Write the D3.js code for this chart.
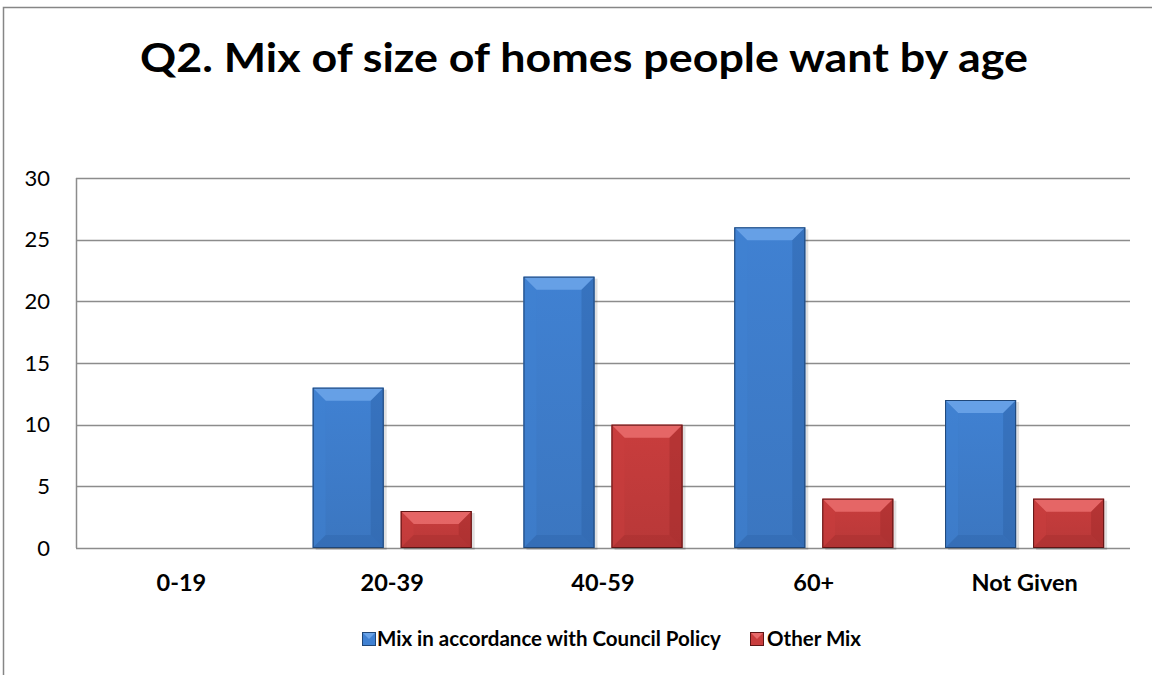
<!DOCTYPE html>
<html><head><meta charset="utf-8">
<script src="https://cdn.jsdelivr.net/npm/d3@7"></script>
<style>body{margin:0;background:#fff}svg{display:block}text{font-family:Lato,"Open Sans",sans-serif}</style>
</head><body>
<script>
const categories = ["0-19","20-39","40-59","60+","Not Given"];
const seriesNames = ["Mix in accordance with Council Policy","Other Mix"];
const councilPolicy = [0,13,22,26,12];
const otherMix = [0,3,10,4,4];
const yTicks = [0,5,10,15,20,25,30];
const title = "Q2. Mix of size of homes people want by age";

const W=1152,H=675;
const svg=d3.select("body").append("svg").attr("width",W).attr("height",H);
const defs=svg.append("defs");
const colors=[{base:"#4081d2",light:"#6aa3e8",dark:"#2c62a6",edge:"#1f4677"},{base:"#c93d3d",light:"#e86a6a",dark:"#a02b2b",edge:"#5e1515"}];
colors.forEach((c,i)=>{
  const g=defs.append("linearGradient").attr("id","g"+i).attr("x1",0).attr("y1",0).attr("x2",0).attr("y2",1);
  g.append("stop").attr("offset",0).attr("stop-color",c.base);
  g.append("stop").attr("offset",1).attr("stop-color",d3.color(c.base).darker(0.25));
});

svg.append("rect").attr("x",3.5).attr("y",7.5).attr("width",W+10).attr("height",H+10).attr("fill","none").attr("stroke","#868686").attr("stroke-width",1.5);

svg.append("text").attr("x",584).attr("y",72).attr("text-anchor","middle").attr("font-size",40).attr("font-weight","bold").attr("fill","#000")
  .attr("textLength",888).attr("lengthAdjust","spacingAndGlyphs").text(title);

const L=76,R=1130,T=178,B=548;
const x=d3.scaleBand().domain(categories).range([L,R]);
const y=d3.scaleLinear().domain([0,30]).range([B,T]);
const inner=d3.scaleBand().domain(seriesNames).range([0,x.bandwidth()]).paddingInner(0.193).paddingOuter(0.294);

svg.append("g").selectAll("line").data(yTicks).join("line")
  .attr("x1",L).attr("x2",R).attr("y1",d=>Math.round(y(d))+0.5).attr("y2",d=>Math.round(y(d))+0.5)
  .attr("stroke","#8c8c8c").attr("stroke-width",1.5);
svg.append("line").attr("x1",L+0.5).attr("x2",L+0.5).attr("y1",T).attr("y2",B).attr("stroke","#8c8c8c").attr("stroke-width",1.5);
const ya=svg.append("g").attr("transform",`translate(${L},0)`).call(d3.axisLeft(y).tickValues(yTicks).tickSize(0).tickPadding(26));
ya.select(".domain").remove();
ya.selectAll("text").attr("font-size",22).attr("font-family","Lato,sans-serif").attr("fill","#000");

const data=[];
categories.forEach((c,i)=>{data.push({c,s:0,v:councilPolicy[i]});data.push({c,s:1,v:otherMix[i]});});
const bars=svg.append("g").selectAll("g").data(data.filter(d=>d.v>0)).join("g")
  .attr("transform",d=>`translate(${x(d.c)+inner(seriesNames[d.s])},${y(d.v)})`);
const bw=inner.bandwidth();
bars.each(function(d){
  const g=d3.select(this), h=y(0)-y(d.v), c=colors[d.s], b=Math.min(13,h/2);
  g.append("rect").attr("x",3).attr("y",2).attr("width",bw).attr("height",h).attr("fill","#000").attr("opacity",0.12);
  g.append("rect").attr("width",bw).attr("height",h).attr("fill",`url(#g${d.s})`);
  g.append("polygon").attr("points",`0,0 ${bw},0 ${bw-b},${b} ${b},${b}`).attr("fill",c.light).attr("opacity",0.9);
  g.append("polygon").attr("points",`0,0 ${b},${b} ${b},${h-b} 0,${h}`).attr("fill",c.base).attr("opacity",0.5);
  g.append("polygon").attr("points",`0,${h} ${b},${h-b} ${bw-b},${h-b} ${bw},${h}`).attr("fill",c.dark).attr("opacity",0.35);
  g.append("polygon").attr("points",`${bw},0 ${bw},${h} ${bw-b},${h-b} ${bw-b},${b}`).attr("fill",c.dark).attr("opacity",0.45);
  g.append("rect").attr("x",0.5).attr("y",0.5).attr("width",bw-1).attr("height",h-1).attr("fill","none").attr("stroke",c.edge).attr("stroke-width",1);
});

svg.append("g").selectAll("text").data(categories).join("text")
  .attr("x",d=>x(d)+x.bandwidth()/2).attr("y",591).attr("text-anchor","middle")
  .attr("font-size",23.5).attr("font-weight","bold").attr("fill","#000").text(d=>d);

const leg=[{x:362,tx:377},{x:750,tx:767}];
seriesNames.forEach((n,i)=>{
  const c=colors[i];
  const g=svg.append("g").attr("transform",`translate(${leg[i].x},${632})`);
  g.append("rect").attr("x",0.5).attr("y",0.5).attr("width",13).attr("height",13).attr("fill",c.base).attr("stroke",c.edge);
  g.append("polygon").attr("points","1,1 13,1 7,7").attr("fill",c.light);
  svg.append("text").attr("x",leg[i].tx).attr("y",646).attr("font-size",20.5).attr("font-weight","bold").attr("fill","#000").text(n);
});
</script>
</body></html>
